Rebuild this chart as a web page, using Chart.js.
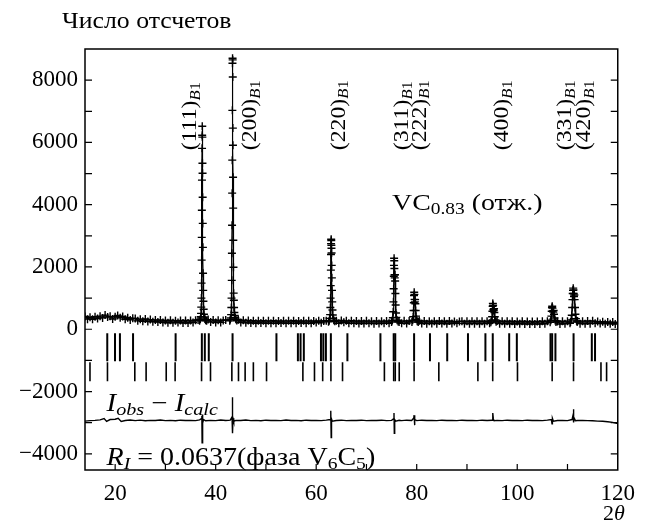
<!DOCTYPE html>
<html>
<head>
<meta charset="utf-8">
<script src="https://cdn.jsdelivr.net/npm/chart.js@4.4.0/dist/chart.umd.min.js"></script>
<style>html,body{margin:0;padding:0;background:#fff}</style>
</head>
<body>
<canvas id="xrd" width="645" height="524"></canvas>
<script>
// Observed counts: background on a 0.5 deg grid (null = inside a peak window)
const bgStart = 14
const bgStep = 0.5
const bgCounts = [
  410, 325, 385, 320, 405, 345, 420, 365, 455, 390,
  415, 330, 400, 445, 370, 410, 320, 370, 300, 350,
  345, 270, 325, 255, 330, 245, 310, 240, 300, 235,
  295, 215, 280, 210, 290, 205, 275, 215, 280, 200,
  280, 200, 285, 215, 290, 300, null, null, null, 310,
  230, 300, 215, 290, 220, 285, 300, null, null, null,
  null, 305, 215, 290, 205, 280, 200, 275, 195, 270,
  200, 275, 190, 270, 195, 275, 190, 265, 200, 270,
  190, 270, 195, 275, 190, 265, 200, 270, 190, 270,
  195, 265, 215, 270, 205, 265, 275, null, null, null,
  275, 195, 285, 225, 270, 195, 275, 190, 265, 185,
  265, 185, 270, 190, 260, 180, 265, 185, 260, 190,
  265, 190, null, null, null, null, 190, 270, 185, 265,
  null, null, null, 270, 185, 265, 180, 260, 185, 260,
  180, 265, 185, 255, 175, 265, 185, 250, 190, 245,
  260, 180, 255, 175, 260, 180, 255, 175, 260, 180,
  255, 190, null, null, 265, 180, 260, 175, 255, 175,
  255, 170, 250, 175, 255, 170, 250, 165, 250, 170,
  250, 165, 255, 175, 260, null, null, null, 250, 170,
  255, 175, 260, 195, null, null, 265, 180, 260, 175,
  265, 180, 270, 190, 245, 185, 240, 180, 235, 175,
  230, 170, 220
]

// Observed counts across the B1 reflections
const peakTheta = [
  36.8, 36.95, 37.03, 37.09, 37.13, 37.16, 37.19, 37.21, 37.23, 37.25, 37.27, 37.29, 37.31, 37.33, 37.35,
  37.37, 37.39, 37.41, 37.43, 37.46, 37.49, 37.52, 37.56, 37.61, 37.67, 37.75, 37.85, 38.0, 38.2,
  42.8, 42.92, 43.0, 43.07, 43.12, 43.16, 43.2, 43.23, 43.26, 43.28, 43.3, 43.32, 43.34, 43.36, 43.38,
  43.4, 43.42, 43.44, 43.46, 43.48, 43.51, 43.54, 43.58, 43.62, 43.66, 43.72, 43.8, 43.9, 44.0, 44.2,
  62.45, 62.6, 62.7, 62.77, 62.82, 62.86, 62.89, 62.92, 62.94, 62.96, 62.98, 63.0, 63.02, 63.04, 63.06,
  63.09, 63.12, 63.15, 63.19, 63.24, 63.3, 63.38, 63.5, 63.7,
  75.0, 75.15, 75.25, 75.32, 75.37, 75.41, 75.44, 75.47, 75.5, 75.53, 75.56, 75.59, 75.63, 75.67, 75.71,
  75.76, 75.81, 75.87, 75.95, 76.1, 76.3, 76.5,
  79.05, 79.2, 79.3, 79.37, 79.42, 79.46, 79.5, 79.54, 79.58, 79.63, 79.68, 79.73, 79.79, 79.86, 79.95,
  80.1, 80.3,
  94.75, 94.9, 95.0, 95.06, 95.11, 95.15, 95.2, 95.26, 95.33, 95.39, 95.45, 95.53, 95.63, 95.8,
  106.55, 106.7, 106.8, 106.86, 106.91, 106.96, 107.02, 107.09, 107.17, 107.25, 107.32, 107.42, 107.55, 107.7,
  110.6, 110.75, 110.85, 110.93, 110.99, 111.04, 111.09, 111.14, 111.19, 111.24, 111.3, 111.36, 111.42, 111.5,
  111.58, 111.68, 111.8, 111.92
]
const peakCounts = [
  275, 320, 400, 510, 710, 1000, 1480, 2220, 2950, 3820, 4790, 5810, 6230, 6520, 6170,
  5330, 5010, 4240, 3400, 2630, 1800, 1250, 900, 640, 480, 390, 330, 290, 270,
  270, 310, 360, 470, 700, 1000, 1570, 2440, 3340, 4370, 5430, 7030, 8540, 8705, 8650,
  8100, 6460, 5910, 4880, 3890, 2860, 1990, 1160, 930, 700, 540, 440, 370, 320, 280,
  240, 275, 350, 470, 700, 1000, 1400, 1900, 2400, 2750, 2890, 2850, 2700, 2600, 2450,
  2050, 1650, 1250, 880, 620, 460, 350, 290, 255,
  235, 280, 370, 560, 880, 1300, 1700, 2050, 2280, 2200, 1950, 1750, 1650, 1750, 1550,
  1150, 780, 520, 380, 290, 250, 235,
  230, 290, 400, 600, 850, 1080, 1190, 1120, 960, 880, 950, 820, 600, 420, 320,
  260, 230,
  225, 280, 400, 580, 740, 830, 770, 640, 600, 660, 540, 400, 300, 240,
  225, 290, 420, 580, 700, 740, 680, 590, 550, 600, 480, 360, 280, 235,
  230, 300, 450, 700, 950, 1150, 1250, 1320, 1260, 1150, 1050, 1100, 950, 700,
  480, 340, 270, 235
]

// Difference curve I_obs - I_calc, shifted down
const diffTheta = [
  14, 15, 16, 17, 17.8, 18.3, 19, 20, 20.6, 21.2, 22, 23, 24, 25, 26, 27, 28, 29, 30, 31, 32, 33, 34, 35, 36,
  36.8, 37.15, 37.25, 37.3, 37.36, 37.45, 37.6, 38, 39, 40, 41, 42,
  42.9, 43.25, 43.32, 43.38, 43.45, 43.6, 44, 45, 46, 47, 48, 49, 50, 51, 52, 53, 54, 55, 56, 57, 58, 59, 60, 61, 62,
  62.8, 62.9, 62.98, 63.05, 63.2, 64, 65, 66, 67, 68, 69, 70, 71, 72, 73, 74, 75,
  75.42, 75.48, 75.54, 75.62, 75.8, 76.5, 77, 78, 79,
  79.42, 79.48, 79.55, 79.65, 80, 81, 82, 83, 84, 85, 86, 87, 88, 89, 90, 91, 92, 93, 94, 95,
  95.1, 95.17, 95.25, 95.4, 96, 97, 98, 99, 100, 101, 102, 103, 104, 105, 106,
  106.8, 106.92, 107.0, 107.2, 108, 109, 110,
  110.9, 111.1, 111.18, 111.25, 111.35, 111.6, 112, 113, 114, 115, 116, 117, 118, 119, 120
]
const diffCounts = [
  -2950, -2935, -2925, -2910, -2870, -2960, -2900, -2890, -2860, -2960, -2930, -2915, -2935, -2920, -2940,
  -2925, -2930, -2915, -2935, -2925, -2940, -2920, -2930, -2925, -2935,
  -2910, -2870, -2780, -3650, -2740, -3010, -2900, -2940, -2925, -2935, -2915, -2930,
  -2920, -2820, -2180, -3340, -2860, -2960, -2925, -2930, -2915, -2935, -2925, -2940, -2920, -2930, -2925,
  -2935, -2915, -2930, -2925, -2940, -2920, -2930, -2925, -2935, -2920,
  -2900, -2620, -3480, -2880, -2950, -2930, -2920, -2935, -2925, -2930, -2920, -2935, -2925, -2930, -2920,
  -2935, -2925,
  -2870, -2690, -3340, -2900, -2950, -2925, -2935, -2920, -2930,
  -2850, -2760, -3080, -2900, -2935, -2920, -2930, -2925, -2935, -2920, -2930, -2925, -2935, -2920, -2930,
  -2925, -2935, -2920, -2930, -2920,
  -2800, -2690, -2880, -2940, -2925, -2935, -2920, -2930, -2925, -2935, -2920, -2930, -2925, -2935, -2920,
  -2900, -3040, -2860, -2950, -2930, -2925, -2935,
  -2900, -2760, -2570, -2990, -2860, -2940, -2930, -2925, -2935, -2940, -2950, -2955, -2970, -2990, -3030
]

// Bragg reflection positions (two rows of markers)
const braggRow1 = [
  18.43, 19.97, 20.95, 23.56, 32.03, 37.25, 37.84, 38.63, 43.36, 52.09, 56.36, 56.89, 57.54,
  60.95, 61.42, 61.93, 62.92, 66.21, 72.78, 75.42, 75.73, 79.48, 82.64, 86.07, 90.2, 93.67,
  95.13, 98.4, 99.92, 106.62, 106.95, 107.6, 111.21, 114.84, 115.48
]
const braggRow2 = [
  14.99, 18.47, 23.91, 26.16, 30.16, 31.93, 37.19, 38.97, 43.22, 44.54, 45.86, 47.5, 50.12,
  57.35, 59.66, 61.29, 62.93, 65.24, 73.57, 75.42, 75.73, 76.52, 79.48, 84.4, 92.17, 95.12,
  100.05, 106.95, 111.2, 116.66, 117.78
]
const row1Level = -580
const row2Level = -1365

// Reflection labels (text anchored at 2theta, starting at hklLevel)
const hklLabels = ['(111)', '(200)', '(220)', '(311)', '(222)', '(400)', '(331)', '(420)']
const hklTheta = [34.9, 46.9, 64.45, 77.07, 80.62, 96.98, 109.6, 113.35]
const hklLevel = 5750

const xTicks = [20, 40, 60, 80, 100, 120]
const yTicks = [-4000, -2000, 0, 2000, 4000, 6000, 8000]

const FONT = '"Liberation Serif", "Times New Roman", serif'

const obsPoints = []
bgCounts.forEach((c, i) => {
  if (c !== null) obsPoints.push({ x: bgStart + i * bgStep, y: c })
})
peakTheta.forEach((t, i) => obsPoints.push({ x: t, y: peakCounts[i] }))
obsPoints.sort((a, b) => a.x - b.x)

const diffPoints = diffTheta.map((t, i) => ({ x: t, y: diffCounts[i] }))

// draws a run of text parts (italic / subscript), stretched horizontally by sx
function richText(ctx, x, y, parts, size, sx = 1) {
  ctx.save()
  ctx.translate(x, y)
  ctx.scale(sx, 1)
  let cx = 0
  for (const p of parts) {
    const s = p.sub ? size * 0.7 : size
    ctx.font = (p.it ? 'italic ' : '') + s + 'px ' + FONT
    ctx.fillText(p.t, cx, p.sub ? size * 0.16 : 0)
    cx += ctx.measureText(p.t).width
  }
  ctx.restore()
}

const decor = {
  id: 'decor',
  afterDraw(chart) {
    const { ctx, chartArea: a, scales: { x, y } } = chart
    ctx.save()
    ctx.strokeStyle = '#000'
    ctx.fillStyle = '#000'

    // frame
    ctx.lineWidth = 1.5
    ctx.strokeRect(a.left, a.top, a.right - a.left, a.bottom - a.top)

    // inward ticks
    ctx.lineWidth = 1.2
    ctx.beginPath()
    for (let v = 20; v < x.max; v += 10) {
      const px = x.getPixelForValue(v)
      ctx.moveTo(px, a.bottom)
      ctx.lineTo(px, a.bottom - 6)
    }
    for (let v = -4000; v < y.max; v += 1000) {
      const py = y.getPixelForValue(v)
      ctx.moveTo(a.left, py)
      ctx.lineTo(a.left + 7, py)
      ctx.moveTo(a.right, py)
      ctx.lineTo(a.right - 7, py)
    }
    ctx.stroke()

    ctx.textAlign = 'left'
    ctx.textBaseline = 'alphabetic'

    // rotated hkl labels
    hklLabels.forEach((lab, i) => {
      const px = x.getPixelForValue(hklTheta[i]) + 6
      const py = y.getPixelForValue(hklLevel)
      ctx.save()
      ctx.translate(px, py)
      ctx.rotate(-Math.PI / 2)
      richText(ctx, 0, 0, [{ t: lab }, { t: 'B', it: true, sub: true }, { t: '1', sub: true }], 22, 1.08)
      ctx.restore()
    })

    // annotations
    richText(ctx, x.getPixelForValue(75.1), y.getPixelForValue(3823),
      [{ t: 'VC' }, { t: '0.83', sub: true }, { t: ' (отж.)' }], 24, 1.16)
    richText(ctx, x.getPixelForValue(18.3), y.getPixelForValue(-2634),
      [{ t: 'I', it: true }, { t: 'obs', it: true, sub: true }, { t: ' − ' }, { t: 'I', it: true }, { t: 'calc', it: true, sub: true }], 25, 1.15)
    richText(ctx, x.getPixelForValue(18.3), y.getPixelForValue(-4369),
      [{ t: 'R', it: true }, { t: 'I', it: true, sub: true }, { t: ' = 0.0637(фаза V' }, { t: '6', sub: true }, { t: 'C' }, { t: '5', sub: true }, { t: ')' }], 25, 1.12)

    // axis titles
    richText(ctx, 62, 28, [{ t: 'Число отсчетов' }], 23, 1.12)
    richText(ctx, 603, 520, [{ t: '2' }, { t: 'θ', it: true }], 22)
    ctx.restore()
  }
}

new Chart(document.querySelector('#xrd').getContext('2d'), {
  type: 'scatter',
  data: {
    datasets: [
      {
        label: 'obs',
        data: obsPoints,
        showLine: true,
        borderColor: '#000',
        borderWidth: 1.2,
        pointStyle: 'cross',
        pointRadius: 4,
        pointBorderWidth: 1.4,
        pointBorderColor: '#000'
      },
      {
        label: 'diff',
        data: diffPoints,
        showLine: true,
        borderColor: '#000',
        borderWidth: 1.4,
        pointRadius: 0
      },
      {
        label: 'bragg1',
        data: braggRow1.map(t => ({ x: t, y: row1Level })),
        pointStyle: 'line',
        rotation: 90,
        pointRadius: 14,
        pointBorderWidth: 2,
        pointBorderColor: '#000'
      },
      {
        label: 'bragg2',
        data: braggRow2.map(t => ({ x: t, y: row2Level })),
        pointStyle: 'line',
        rotation: 90,
        pointRadius: 9.5,
        pointBorderWidth: 1.6,
        pointBorderColor: '#000'
      }
    ]
  },
  options: {
    responsive: false,
    animation: false,
    events: [],
    layout: { padding: { top: 49, right: 22, left: 0, bottom: 0 } },
    plugins: { legend: { display: false }, tooltip: { enabled: false } },
    scales: {
      x: {
        type: 'linear',
        min: 14,
        max: 120,
        afterBuildTicks: s => { s.ticks = xTicks.map(v => ({ value: v })) },
        afterFit: s => { s.height = 54 },
        grid: { display: false, drawTicks: false },
        border: { display: false },
        ticks: { color: '#000', padding: 10, font: { family: FONT, size: 23 }, maxRotation: 0 }
      },
      y: {
        min: -4520,
        max: 9000,
        afterBuildTicks: s => { s.ticks = yTicks.map(v => ({ value: v })) },
        afterFit: s => { s.width = 85 },
        grid: { display: false, drawTicks: false },
        border: { display: false },
        ticks: {
          color: '#000',
          padding: 7,
          font: { family: FONT, size: 23 },
          callback: v => (v < 0 ? '−' + Math.abs(v) : '' + v)
        }
      }
    }
  },
  plugins: [decor]
})
</script>
</body>
</html>
